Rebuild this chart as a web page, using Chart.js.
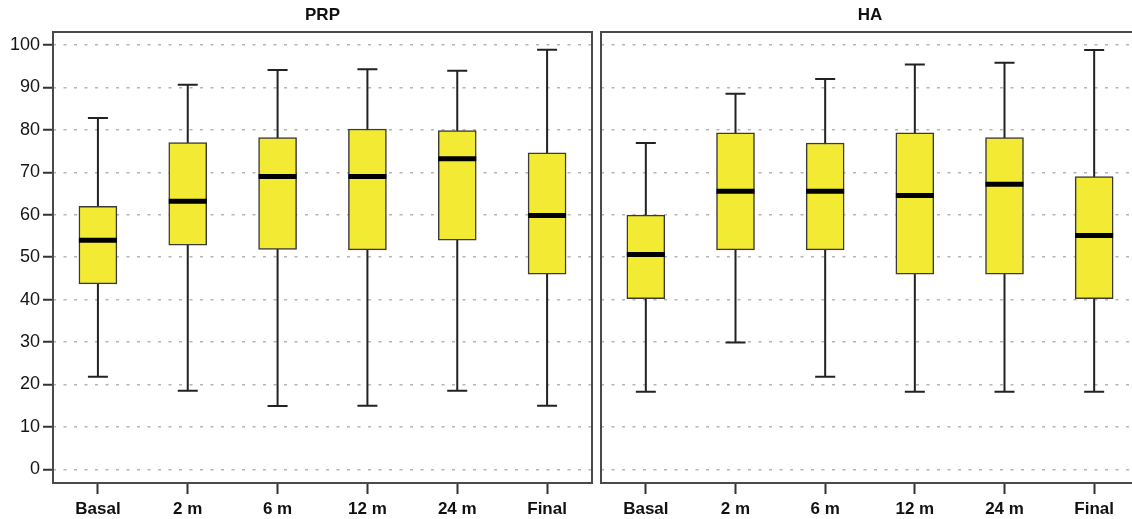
<!DOCTYPE html>
<html>
<head>
<meta charset="utf-8">
<script src="https://cdn.jsdelivr.net/npm/chart.js@4.4.0/dist/chart.umd.min.js"></script>
<style>
    html, body { margin: 0; padding: 0; background: #fff; overflow: hidden; }
    body { width: 1132px; height: 519px; position: relative; }
    canvas { position: absolute; top: 0; }
</style>
</head>
<body>
<canvas id="graficoPRP" width="596" height="519" style="left:0px"></canvas>
<canvas id="graficoHA" width="549" height="519" style="left:596px"></canvas>
<script>
// categorias y ticks
const categorias = ['Basal', '2 m', '6 m', '12 m', '24 m', 'Final'];
const ticksY = [0, 10, 20, 30, 40, 50, 60, 70, 80, 90, 100];

// PRP
const prpMin = [21.8, 18.5, 14.9, 15.0, 18.5, 15.0];
const prpQ1 = [43.7, 52.8, 51.8, 51.7, 54.0, 46.0];
const prpMediana = [54.0, 63.2, 69.0, 69.0, 73.2, 59.8];
const prpQ3 = [62.0, 77.0, 78.2, 80.2, 79.8, 74.6];
const prpMax = [82.8, 90.6, 94.1, 94.3, 93.9, 98.9];

// HA
const haMin = [18.3, 29.9, 21.8, 18.3, 18.3, 18.3];
const haQ1 = [40.2, 51.7, 51.7, 46.0, 46.0, 40.2];
const haMediana = [50.6, 65.5, 65.5, 64.5, 67.2, 55.1];
const haQ3 = [59.9, 79.3, 76.9, 79.3, 78.2, 69.0];
const haMax = [76.9, 88.5, 92.0, 95.4, 95.8, 98.8];

const fuente = "'Liberation Sans', Arial, sans-serif";

// bigotes, medianas y marco de cada panel
const cajaPlugin = {
    id: 'caja',
    beforeDatasetsDraw(chart) {
        const st = chart.config.options.plugins.caja;
        const x = chart.scales.x, y = chart.scales.y;
        const ctx = chart.ctx;
        ctx.save();
        ctx.strokeStyle = '#222';
        ctx.lineWidth = 2;
        for (let i = 0; i < categorias.length; i++) {
            const cx = x.getPixelForValue(i);
            const yMin = y.getPixelForValue(st.min[i]);
            const yMax = y.getPixelForValue(st.max[i]);
            ctx.beginPath();
            ctx.moveTo(cx, yMin); ctx.lineTo(cx, yMax);
            ctx.moveTo(cx - 10, yMin); ctx.lineTo(cx + 10, yMin);
            ctx.moveTo(cx - 10, yMax); ctx.lineTo(cx + 10, yMax);
            ctx.stroke();
        }
        ctx.restore();
    },
    afterDatasetsDraw(chart) {
        const st = chart.config.options.plugins.caja;
        const x = chart.scales.x, y = chart.scales.y;
        const ctx = chart.ctx;
        ctx.save();
        ctx.strokeStyle = '#000';
        ctx.lineWidth = 5;
        for (let i = 0; i < categorias.length; i++) {
            const cx = x.getPixelForValue(i);
            const ym = y.getPixelForValue(st.mediana[i]);
            ctx.beginPath();
            ctx.moveTo(cx - 19, ym); ctx.lineTo(cx + 19, ym);
            ctx.stroke();
        }
        ctx.restore();
    },
    afterDraw(chart) {
        const a = chart.chartArea;
        const ctx = chart.ctx;
        ctx.save();
        ctx.strokeStyle = '#4a4a4a';
        ctx.lineWidth = 2;
        ctx.strokeRect(a.left, a.top, a.right - a.left, a.bottom - a.top);
        ctx.restore();
    }
};

function crearPanel(id, titulo, minimo, q1, mediana, q3, maximo, conEjeY) {
    const ctx = document.getElementById(id).getContext('2d');
    return new Chart(ctx, {
        type: 'bar',
        data: {
            labels: categorias,
            datasets: [{
                data: q1.map((v, i) => [v, q3[i]]),
                backgroundColor: '#f2ea33',
                borderColor: '#3a3a3a',
                borderWidth: 1.5,
                borderSkipped: false,
                barThickness: 38
            }]
        },
        options: {
            responsive: false,
            animation: false,
            layout: { padding: conEjeY ? { left: 0, right: 4 } : { left: 0, right: 6 } },
            plugins: {
                legend: { display: false },
                tooltip: { enabled: false },
                title: {
                    display: true,
                    text: titulo,
                    fullSize: false,
                    color: '#111',
                    font: { family: fuente, size: 17, weight: 'bold' },
                    padding: { top: 5, bottom: 6.6 }
                },
                caja: { min: minimo, mediana: mediana, max: maximo }
            },
            scales: {
                x: {
                    border: { display: false },
                    grid: {
                        offset: false,
                        drawOnChartArea: false,
                        drawTicks: true,
                        tickLength: 11,
                        tickColor: '#333',
                        tickWidth: 2
                    },
                    ticks: {
                        color: '#111',
                        padding: 5,
                        maxRotation: 0,
                        font: { family: fuente, size: 17, weight: 'bold' }
                    },
                    afterFit: (s) => { s.height = 36; }
                },
                y: {
                    min: -3.23,
                    max: 103.06,
                    border: { display: false, dash: [3, 7.5] },
                    afterBuildTicks: (s) => { s.ticks = ticksY.map(v => ({ value: v })); },
                    grid: {
                        color: '#b5b5b5',
                        lineWidth: 1.5,
                        drawTicks: conEjeY,
                        tickLength: 10,
                        tickColor: '#333',
                        tickWidth: 2,
                        tickBorderDash: []
                    },
                    ticks: {
                        display: conEjeY,
                        color: '#151515',
                        padding: 3,
                        font: { family: fuente, size: 18 }
                    },
                    afterFit: (s) => { s.width = conEjeY ? 53 : 5; }
                }
            }
        },
        plugins: [cajaPlugin]
    });
}

crearPanel('graficoPRP', 'PRP', prpMin, prpQ1, prpMediana, prpQ3, prpMax, true);
crearPanel('graficoHA', 'HA', haMin, haQ1, haMediana, haQ3, haMax, false);
</script>
</body>
</html>
